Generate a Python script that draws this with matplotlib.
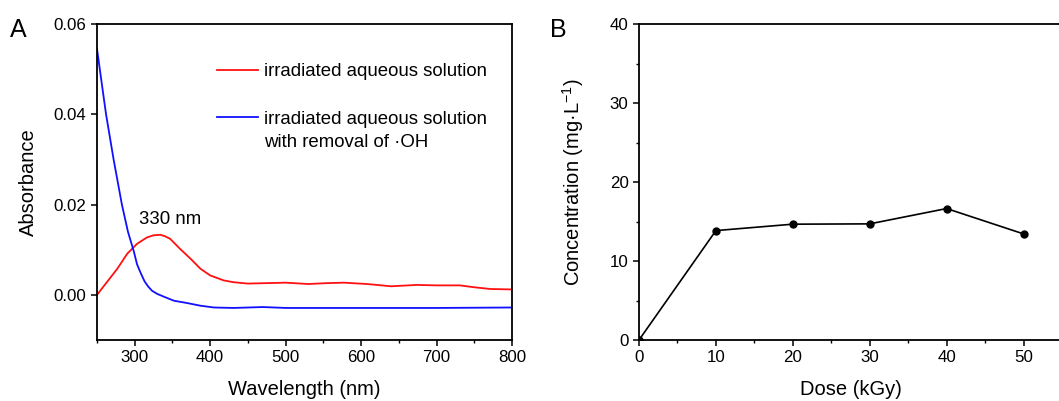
import matplotlib
matplotlib.use('Agg')

import matplotlib.pyplot as plt
from matplotlib.ticker import MultipleLocator, FormatStrFormatter

plt.rcParams['font.family'] = ['Liberation Sans', 'DejaVu Sans']

# Panel A: UV-vis absorbance spectra
red_wl = [250, 263, 277, 290, 303, 316, 325, 334, 340, 347, 360, 374, 387,
          400, 418, 431, 450, 475, 500, 530, 555, 577, 608, 640, 674, 700,
          731, 749, 771, 800]
red_abs = [0.0000, 0.0028, 0.0058, 0.0091, 0.0113, 0.0127, 0.0132, 0.0133,
           0.0130, 0.0124, 0.0102, 0.0080, 0.0058, 0.0043, 0.0032, 0.0028,
           0.0025, 0.0026, 0.0027, 0.0024, 0.0026, 0.0027, 0.0024, 0.0019,
           0.0022, 0.0021, 0.0021, 0.0017, 0.0013, 0.0012]

blue_wl = [250, 256, 262, 272, 283, 291, 299, 303, 308, 313, 318, 323, 330,
           340, 352, 369, 387, 405, 431, 470, 500, 600, 700, 800]
blue_abs = [0.0545, 0.0472, 0.0400, 0.0300, 0.0200, 0.0140, 0.0095, 0.0068,
            0.0048, 0.0030, 0.0018, 0.0009, 0.0002, -0.0005, -0.0013,
            -0.0018, -0.0024, -0.0028, -0.0029, -0.0027, -0.0029, -0.0029,
            -0.0029, -0.0028]

red_label = 'irradiated aqueous solution'
blue_label = 'irradiated aqueous solution'
blue_label_2 = 'with removal of \u00b7OH'
peak_label = '330 nm'

# Panel B: concentration vs dose
dose = [0, 10, 20, 30, 40, 50]
conc = [0.0, 13.85, 14.66, 14.7, 16.64, 13.43]

fig = plt.figure(figsize=(10.59, 4.01), dpi=100)
ax_a = fig.add_axes([97 / 1059, 61 / 401, 415 / 1059, 316 / 401])
ax_b = fig.add_axes([639 / 1059, 61 / 401, 423 / 1059, 316 / 401])

SPINE_W = 1.3
TICK_FS = 12.2
LABEL_FS = 14.5

for ax in (ax_a, ax_b):
    for sp in ax.spines.values():
        sp.set_linewidth(SPINE_W)
    ax.tick_params(which='major', direction='out', length=4, width=1.1,
                   labelsize=TICK_FS)
    ax.tick_params(which='minor', direction='out', length=2.5, width=1.0)

# --- Panel A ---
ax_a.plot(red_wl, red_abs, color='#ff1010', lw=1.3, label=red_label)
ax_a.plot(blue_wl, blue_abs, color='#1010ff', lw=1.3, label=blue_label)
ax_a.set_xlim(250, 800)
ax_a.set_ylim(-0.01, 0.06)
ax_a.set_xticks([300, 400, 500, 600, 700, 800])
ax_a.xaxis.set_minor_locator(MultipleLocator(50))
ax_a.set_yticks([0.0, 0.02, 0.04, 0.06])
ax_a.yaxis.set_major_formatter(FormatStrFormatter('%.2f'))
ax_a.set_xlabel('Wavelength (nm)', fontsize=LABEL_FS, labelpad=10.5)
ax_a.set_ylabel('Absorbance', fontsize=LABEL_FS, labelpad=11.5)
ax_a.text(347, 0.0166, peak_label, fontsize=13.4, ha='center', va='center')

leg = ax_a.legend(loc='upper left', bbox_to_anchor=(0.289, 0.876),
                  frameon=False, fontsize=13.4, handlelength=2.2,
                  handletextpad=0.32, labelspacing=1.64, borderpad=0,
                  borderaxespad=0)
# second line of the blue entry, drawn after the legend
ax_a.annotate(blue_label_2, xy=(0, 0), xycoords=leg.get_texts()[1],
              xytext=(0, -4.6), textcoords='offset points',
              ha='left', va='top', fontsize=13.4, zorder=6)

fig.text(10 / 1059, 1 - 18 / 401, 'A', fontsize=18, ha='left', va='top')

# --- Panel B ---
ax_b.plot(dose, conc, color='black', lw=1.2, marker='o', markersize=5)
ax_b.set_xlim(0, 55)
ax_b.set_ylim(0, 40)
ax_b.set_xticks([0, 10, 20, 30, 40, 50])
ax_b.xaxis.set_minor_locator(MultipleLocator(5))
ax_b.set_yticks([0, 10, 20, 30, 40])
ax_b.yaxis.set_minor_locator(MultipleLocator(5))
ax_b.set_xlabel('Dose (kGy)', fontsize=LABEL_FS, labelpad=10.5)
ax_b.set_ylabel('Concentration (mg\u00b7L$^{\\mathregular{-1}}$)',
                fontsize=LABEL_FS, labelpad=17)

fig.text(550 / 1059, 1 - 18 / 401, 'B', fontsize=18, ha='left', va='top')

fig.savefig('out.png', dpi=100)
